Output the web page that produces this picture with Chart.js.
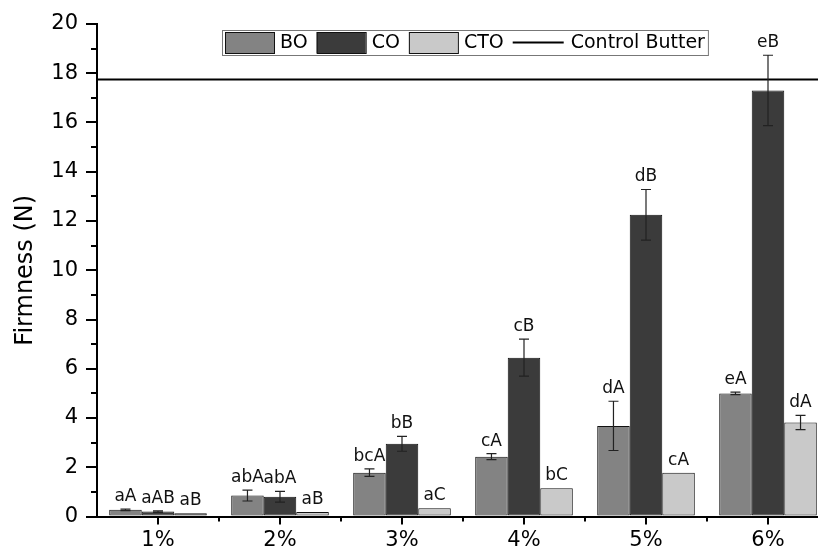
<!DOCTYPE html>
<html>
<head>
<meta charset="utf-8">
<title>Firmness (N)</title>
<script src="https://cdn.jsdelivr.net/npm/chart.js@4"></script>
<style>
  html, body { margin: 0; padding: 0; background: #fff; overflow: hidden; }
  #wrap { width: 818px; height: 548px; overflow: hidden; position: relative; }
  #chart { position: absolute; left: 0; top: 0; }
</style>
</head>
<body>
<div id="wrap"><canvas id="chart" width="830" height="548"></canvas></div>
<script>
// Oil concentration levels
const categories = ['1%', '2%', '3%', '4%', '5%', '6%'];

// Mean firmness (N) and standard deviations per oil type
const boValues  = [0.27, 0.85, 1.78, 2.43, 3.68, 5.00];
const boErrors  = [0.03, 0.22, 0.15, 0.12, 1.00, 0.05];
const coValues  = [0.20, 0.80, 2.95, 6.45, 12.25, 17.30];
const coErrors  = [0.03, 0.22, 0.30, 0.75, 1.03, 1.43];
const ctoValues = [0.13, 0.18, 0.33, 1.15, 1.78, 3.82];
const ctoErrors = [0, 0, 0, 0, 0, 0.29];

// Significance letters shown above each bar
const boLetters  = ['aA', 'abA', 'bcA', 'cA', 'dA', 'eA'];
const coLetters  = ['aAB', 'abA', 'bB', 'cB', 'dB', 'eB'];
const ctoLetters = ['aB', 'aB', 'aC', 'bC', 'cA', 'dA'];

// Reference firmness of the control butter
const controlButter = 17.75;

const FONT = "'DejaVu Sans', 'Liberation Sans', Arial, sans-serif";

const seriesExtras = [
  { errors: boErrors, letters: boLetters },
  { errors: coErrors, letters: coLetters },
  { errors: ctoErrors, letters: ctoLetters }
];

// Horizontal reference line for the control sample
const controlLinePlugin = {
  id: 'controlLine',
  beforeDatasetsDraw(chart) {
    const { ctx, chartArea, scales } = chart;
    const y = scales.y.getPixelForValue(controlButter);
    ctx.save();
    ctx.strokeStyle = '#000';
    ctx.lineWidth = 2;
    ctx.beginPath();
    ctx.moveTo(chartArea.left, y);
    ctx.lineTo(chartArea.right, y);
    ctx.stroke();
    ctx.restore();
  }
};

// Error bars and letter annotations
const annotatePlugin = {
  id: 'annotate',
  afterDatasetsDraw(chart) {
    const { ctx, scales } = chart;
    const ys = scales.y;
    ctx.save();
    chart.data.datasets.forEach((ds, i) => {
      const meta = chart.getDatasetMeta(i);
      const extra = seriesExtras[i];
      meta.data.forEach((bar, j) => {
        const v = ds.data[j];
        const e = extra.errors[j];
        const x = bar.x;
        if (e > 0) {
          const yTop = ys.getPixelForValue(v + e);
          const yBot = ys.getPixelForValue(v - e);
          ctx.strokeStyle = '#222';
          ctx.lineWidth = 1.2;
          ctx.beginPath();
          ctx.moveTo(x, yTop); ctx.lineTo(x, yBot);
          ctx.moveTo(x - 5, yTop); ctx.lineTo(x + 5, yTop);
          ctx.moveTo(x - 5, yBot); ctx.lineTo(x + 5, yBot);
          ctx.stroke();
        }
        const yLabel = ys.getPixelForValue(v + e) - 8;
        ctx.fillStyle = '#111';
        ctx.font = '17px ' + FONT;
        ctx.textAlign = 'center';
        ctx.textBaseline = 'alphabetic';
        ctx.fillText(extra.letters[j], x, yLabel);
      });
    });
    ctx.restore();
  }
};

// Minor ticks on both axes
const minorTicksPlugin = {
  id: 'minorTicks',
  afterDraw(chart) {
    const { ctx, chartArea, scales } = chart;
    ctx.save();
    ctx.strokeStyle = '#000';
    ctx.lineWidth = 2;
    ctx.beginPath();
    for (let v = 1; v < 20; v += 2) {
      const y = Math.round(scales.y.getPixelForValue(v));
      ctx.moveTo(chartArea.left - 6, y);
      ctx.lineTo(chartArea.left, y);
    }
    const step = scales.x.getPixelForValue(1) - scales.x.getPixelForValue(0);
    for (let j = 0; j < categories.length; j++) {
      const x = Math.round(scales.x.getPixelForValue(j) + step / 2);
      ctx.moveTo(x, chartArea.bottom);
      ctx.lineTo(x, chartArea.bottom + 5);
    }
    ctx.stroke();
    ctx.restore();
  }
};

// Boxed legend inside the plot area
const legendBoxPlugin = {
  id: 'legendBox',
  afterDraw(chart) {
    const { ctx } = chart;
    const boxX = 222, boxY = 30, boxH = 25;
    ctx.save();
    ctx.font = '19px ' + FONT;
    ctx.textBaseline = 'middle';
    ctx.textAlign = 'left';
    let x = boxX + 3;
    const midY = boxY + boxH / 2;
    const items = chart.data.datasets.map(ds => ({ type: 'box', label: ds.label, color: ds.backgroundColor }));
    items.push({ type: 'line', label: 'Control Butter' });
    const parts = [];
    items.forEach(it => {
      const p = { it, x };
      x += (it.type === 'line' ? 51 + 7 : 49 + 6);
      p.tx = x;
      x += ctx.measureText(it.label).width + (it.type === 'line' ? 0 : 9);
      parts.push(p);
    });
    const boxW = x - boxX + 3;
    ctx.fillStyle = '#fff';
    ctx.fillRect(boxX, boxY, boxW, boxH);
    ctx.strokeStyle = '#777';
    ctx.lineWidth = 1;
    ctx.strokeRect(boxX + 0.5, boxY + 0.5, boxW, boxH);
    parts.forEach(p => {
      if (p.it.type === 'box') {
        ctx.fillStyle = p.it.color;
        ctx.fillRect(p.x, boxY + 2, 49, 21);
        ctx.strokeStyle = '#111';
        ctx.lineWidth = 1;
        ctx.strokeRect(p.x + 0.5, boxY + 2.5, 49, 21);
      } else {
        ctx.strokeStyle = '#000';
        ctx.lineWidth = 2;
        ctx.beginPath();
        ctx.moveTo(p.x, midY);
        ctx.lineTo(p.x + 51, midY);
        ctx.stroke();
      }
      ctx.fillStyle = '#000';
      ctx.fillText(p.it.label, p.tx, midY + 1);
    });
    ctx.restore();
  }
};

const barStyle = { borderColor: '#111', borderWidth: 1, borderSkipped: false,
                   categoryPercentage: 0.8, barPercentage: 1.0 };

new Chart(document.getElementById('chart'), {
  type: 'bar',
  data: {
    labels: categories,
    datasets: [
      { label: 'BO',  data: boValues,  backgroundColor: '#838383', ...barStyle },
      { label: 'CO',  data: coValues,  backgroundColor: '#3b3b3b', ...barStyle },
      { label: 'CTO', data: ctoValues, backgroundColor: '#c9c9c9', ...barStyle }
    ]
  },
  options: {
    responsive: false,
    animation: false,
    devicePixelRatio: 1,
    layout: { padding: { top: 24, right: 1, bottom: 0, left: 0 } },
    plugins: {
      legend: { display: false },
      tooltip: { enabled: false }
    },
    scales: {
      x: {
        type: 'category',
        offset: true,
        grid: { display: true, drawOnChartArea: false, offset: false, tickLength: 8, color: '#000', lineWidth: 2 },
        border: { display: true, color: '#000', width: 2 },
        ticks: { color: '#000', font: { family: FONT, size: 21 }, padding: 3 },
        afterFit(scale) { scale.height = 31.5; }
      },
      y: {
        min: 0,
        max: 20,
        grid: { display: true, drawOnChartArea: false, tickLength: 11, color: '#000', lineWidth: 2 },
        border: { display: true, color: '#000', width: 2 },
        ticks: { stepSize: 2, color: '#000', font: { family: FONT, size: 21 }, padding: 8 },
        title: { display: true, text: 'Firmness (N)', color: '#000', font: { family: FONT, size: 24 }, padding: { top: 11, bottom: 0 } },
        afterFit(scale) { scale.width = 97; }
      }
    }
  },
  plugins: [controlLinePlugin, annotatePlugin, minorTicksPlugin, legendBoxPlugin]
});
</script>
</body>
</html>
